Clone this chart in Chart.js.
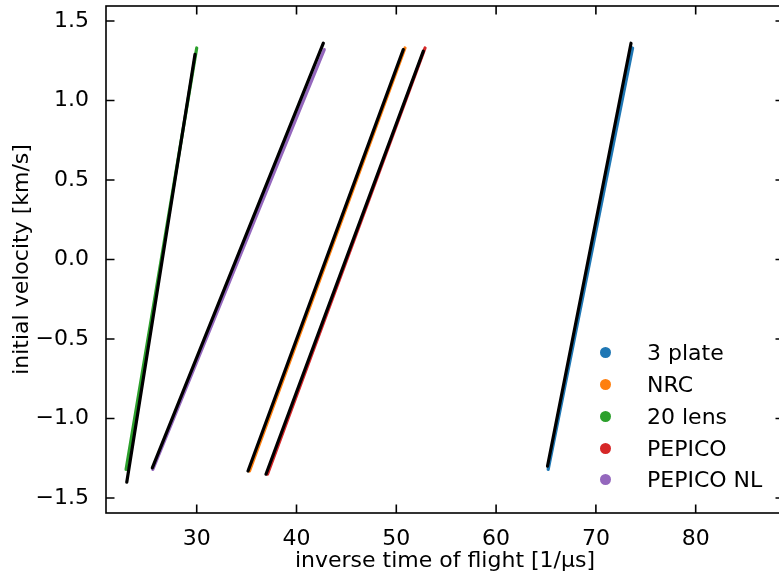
<!DOCTYPE html>
<html>
<head>
<meta charset="utf-8">
<script src="https://cdn.jsdelivr.net/npm/chart.js@4.4.0/dist/chart.umd.min.js"></script>
<style>
    html, body { margin: 0; padding: 0; background: #fff; overflow: hidden; }
    .chart-wrapper { position: relative; width: 784px; height: 577px; }
    .legend { position: absolute; left: 0; top: 0; font-family: 'DejaVu Sans'; font-size: 22px; color: #000; }
    .legend-item { position: absolute; left: 600px; height: 26px; display: flex; align-items: center; white-space: nowrap; }
    .legend-dot { width: 11px; height: 11px; border-radius: 50%; margin-right: 36px; }
</style>
</head>
<body>
<div class="chart-wrapper">
    <canvas id="chart"></canvas>
    <div class="legend"></div>
</div>
<script>
// Séries (nomes e cores na ordem da legenda)
const seriesNames = ['3 plate', 'NRC', '20 lens', 'PEPICO', 'PEPICO NL'];
const seriesColors = ['#1f77b4', '#ff7f0e', '#2ca02c', '#d62728', '#9467bd'];

// Pontos medidos: x = 1/tempo de voo [1/µs], y = velocidade inicial [km/s]
const plate3X = [65.22, 73.68];
const plate3Y = [-1.32, 1.33];
const nrcX = [35.29, 50.87];
const nrcY = [-1.33, 1.33];
const lens20X = [22.92, 30.00];
const lens20Y = [-1.32, 1.33];
const pepicoX = [37.09, 52.88];
const pepicoY = [-1.35, 1.33];
const pepicoNlX = [25.60, 42.78];
const pepicoNlY = [-1.32, 1.32];

// Retas de ajuste (pretas)
const fitPlate3X = [65.15, 73.52];
const fitPlate3Y = [-1.30, 1.36];
const fitNrcX = [35.14, 50.70];
const fitNrcY = [-1.33, 1.32];
const fitLens20X = [22.99, 29.83];
const fitLens20Y = [-1.40, 1.29];
const fitPepicoX = [36.94, 52.71];
const fitPepicoY = [-1.35, 1.31];
const fitPepicoNlX = [25.55, 42.69];
const fitPepicoNlY = [-1.31, 1.36];

// Ticks dos eixos
const xTickValues = [30, 40, 50, 60, 70, 80];
const xTickLabels = ['30', '40', '50', '60', '70', '80'];
const yTickValues = [-1.5, -1.0, -0.5, 0.0, 0.5, 1.0, 1.5];
const yTickLabels = ['\u22121.5', '\u22121.0', '\u22120.5', '0.0', '0.5', '1.0', '1.5'];

const measured = [[plate3X, plate3Y], [nrcX, nrcY], [lens20X, lens20Y], [pepicoX, pepicoY], [pepicoNlX, pepicoNlY]];
const fits = [[fitPlate3X, fitPlate3Y], [fitNrcX, fitNrcY], [fitLens20X, fitLens20Y], [fitPepicoX, fitPepicoY], [fitPepicoNlX, fitPepicoNlY]];

function toPoints(xs, ys) {
    return xs.map((x, i) => ({ x: x, y: ys[i] }));
}

const datasets = [];
measured.forEach(([xs, ys], i) => {
    datasets.push({
        label: seriesNames[i],
        data: toPoints(xs, ys),
        showLine: true,
        borderColor: seriesColors[i],
        backgroundColor: seriesColors[i],
        borderWidth: 3.2,
        borderCapStyle: 'round',
        pointRadius: 0,
        order: 1
    });
});
fits.forEach(([xs, ys], i) => {
    datasets.push({
        label: 'fit ' + seriesNames[i],
        data: toPoints(xs, ys),
        showLine: true,
        borderColor: '#000',
        borderWidth: 3.2,
        borderCapStyle: 'round',
        pointRadius: 0,
        order: 0
    });
});

// Moldura e ticks para dentro, nos quatro lados
const frameTicks = {
    id: 'frameTicks',
    afterDatasetsDraw(chart) {
        const { ctx, chartArea: a, scales: { x, y } } = chart;
        const len = 8.5;
        ctx.save();
        ctx.strokeStyle = '#000';
        ctx.lineWidth = 1.6;
        ctx.strokeRect(a.left, a.top, a.right - a.left, a.bottom - a.top);
        ctx.beginPath();
        x.ticks.forEach(t => {
            const px = x.getPixelForValue(t.value);
            ctx.moveTo(px, a.bottom); ctx.lineTo(px, a.bottom - len);
            ctx.moveTo(px, a.top); ctx.lineTo(px, a.top + len);
        });
        y.ticks.forEach(t => {
            const py = y.getPixelForValue(t.value);
            ctx.moveTo(a.left, py); ctx.lineTo(a.left + len, py);
            ctx.moveTo(a.right, py); ctx.lineTo(a.right - len, py);
        });
        ctx.stroke();
        ctx.restore();
    }
};

Chart.defaults.font.family = 'DejaVu Sans';
Chart.defaults.font.size = 22;
Chart.defaults.color = '#000';

new Chart(document.getElementById('chart').getContext('2d'), {
    type: 'scatter',
    data: { datasets: datasets },
    options: {
        responsive: true,
        maintainAspectRatio: false,
        animation: false,
        layout: { padding: { top: 6, right: 0, left: 0, bottom: 0 } },
        plugins: {
            legend: { display: false },
            tooltip: { enabled: false }
        },
        scales: {
            x: {
                type: 'linear',
                min: 20.91,
                max: 88.85,
                grid: { display: false },
                border: { display: false },
                afterBuildTicks: s => { s.ticks = xTickValues.map(v => ({ value: v })); },
                afterFit: s => { s.height = 64; s.paddingLeft = 0; s.paddingRight = 0; },
                ticks: {
                    autoSkip: false,
                    maxRotation: 0,
                    padding: 5,
                    callback: v => xTickLabels[xTickValues.indexOf(v)]
                },
                title: {
                    display: true,
                    text: 'inverse time of flight [1/\u03bcs]',
                    padding: { top: 0, bottom: 3 }
                }
            },
            y: {
                type: 'linear',
                min: -1.594,
                max: 1.594,
                grid: { display: false },
                border: { display: false },
                afterBuildTicks: s => { s.ticks = yTickValues.map(v => ({ value: v })); },
                afterFit: s => { s.width = 106; s.paddingTop = 0; s.paddingBottom = 0; },
                ticks: {
                    autoSkip: false,
                    padding: 9,
                    callback: v => yTickLabels[yTickValues.indexOf(v)]
                },
                title: {
                    display: true,
                    text: 'initial velocity [km/s]',
                    padding: { top: 9, bottom: 0 }
                }
            }
        }
    },
    plugins: [frameTicks]
});

// Legenda dentro da área do gráfico
const legend = document.querySelector('.legend');
seriesNames.forEach((name, i) => {
    const item = document.createElement('div');
    item.className = 'legend-item';
    item.style.top = (352.7 + i * 31.8 - 13) + 'px';
    const dot = document.createElement('span');
    dot.className = 'legend-dot';
    dot.style.background = seriesColors[i];
    const label = document.createElement('span');
    label.textContent = name;
    item.appendChild(dot);
    item.appendChild(label);
    legend.appendChild(item);
});
</script>
</body>
</html>
